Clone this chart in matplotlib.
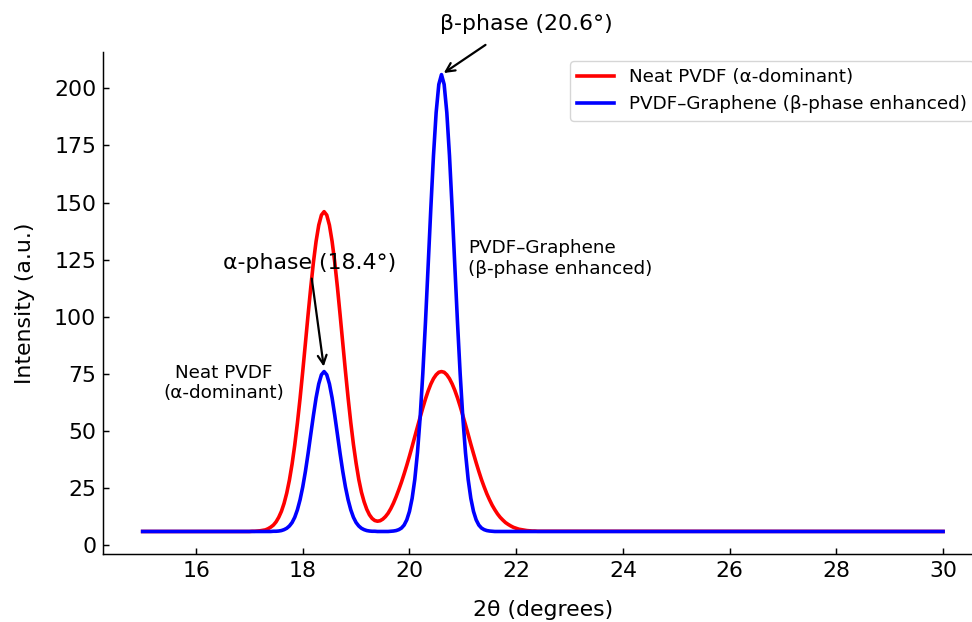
import matplotlib
matplotlib.use("Agg")
import matplotlib.pyplot as plt
import numpy as np

# XRD scan: flat baseline from 15 to 30 deg,
# peaks sampled every 0.05 deg between 17.0 and 22.5 deg
scan_start, scan_end = 15.0, 30.0
baseline = 6.0
two_theta = np.round(np.arange(17.0, 22.501, 0.05), 2)

neat_pvdf = [
    6.0, 6.1, 6.1, 6.2, 6.3, 6.5, 6.7, 7.2, 7.9, 8.8,
    10.2, 12.2, 14.8, 18.3, 22.8, 28.5, 35.5, 43.8, 53.5, 64.3,
    76.1, 88.4, 100.9, 112.8, 123.8, 133.0, 140.1, 144.5, 146.0, 144.5,
    140.1, 133.0, 123.8, 112.9, 100.9, 88.5, 76.2, 64.5, 53.7, 44.1,
    35.9, 28.8, 23.2, 19.0, 15.7, 13.3, 11.7, 10.8, 10.5, 10.7,
    11.4, 12.5, 14.0, 16.0, 18.4, 21.2, 24.3, 27.6, 31.2, 35.0,
    39.0, 43.2, 47.5, 51.8, 56.0, 60.1, 64.0, 67.5, 70.5, 72.9,
    74.6, 75.7, 76.0, 75.7, 74.6, 72.9, 70.6, 67.8, 64.5, 60.8,
    56.8, 52.7, 48.5, 44.2, 40.1, 36.1, 32.3, 28.7, 25.5, 22.5,
    19.9, 17.5, 15.5, 13.7, 12.2, 11.0, 9.9, 9.1, 8.4, 7.8,
    7.4, 7.0, 6.8, 6.6, 6.4, 6.3, 6.2, 6.2, 6.1, 6.1,
    6.1,
]

pvdf_graphene = [
    6.0, 6.0, 6.0, 6.0, 6.0, 6.0, 6.0, 6.0, 6.0, 6.1,
    6.1, 6.2, 6.4, 6.8, 7.4, 8.4, 9.9, 12.2, 15.5, 19.9,
    25.5, 32.3, 40.1, 48.5, 56.8, 64.5, 70.6, 74.6, 76.0, 74.6,
    70.6, 64.5, 56.8, 48.5, 40.1, 32.3, 25.5, 19.9, 15.5, 12.2,
    9.9, 8.4, 7.4, 6.8, 6.4, 6.2, 6.1, 6.1, 6.0, 6.0,
    6.0, 6.0, 6.0, 6.1, 6.2, 6.4, 6.8, 7.5, 8.8, 11.1,
    14.8, 20.5, 28.8, 40.5, 55.9, 75.1, 97.6, 122.3, 147.3, 170.5,
    189.4, 201.7, 206.0, 201.7, 189.4, 170.5, 147.3, 122.3, 97.6, 75.1,
    55.9, 40.5, 28.8, 20.5, 14.8, 11.1, 8.8, 7.5, 6.8, 6.4,
    6.2, 6.1, 6.0, 6.0, 6.0, 6.0, 6.0, 6.0, 6.0, 6.0,
    6.0, 6.0, 6.0, 6.0, 6.0, 6.0, 6.0, 6.0, 6.0, 6.0,
    6.0,
]

series_labels = ["Neat PVDF (α-dominant)", "PVDF–Graphene (β-phase enhanced)"]

# add the flat ends of the scan
x = np.concatenate([[scan_start], two_theta, [scan_end]])
neat = np.concatenate([[baseline], neat_pvdf, [baseline]])
graphene = np.concatenate([[baseline], pvdf_graphene, [baseline]])

fig = plt.figure(figsize=(9.72, 6.22), dpi=100)
# axes run a little past the right edge, as in the reference
ax = fig.add_axes([0.1056, 0.1088, 0.9058, 0.8080])

ax.plot(x, neat, color="red", lw=2.6, label=series_labels[0])
ax.plot(x, graphene, color="blue", lw=2.6, label=series_labels[1])

# peak annotations
ax.annotate("α-phase (18.4°)", xy=(18.4, 77), xytext=(18.13, 123.5), fontsize=15.8,
            ha="center", va="center",
            arrowprops=dict(arrowstyle="->", color="black", lw=1.6))
ax.annotate("β-phase (20.6°)", xy=(20.6, 206), xytext=(22.19, 228), fontsize=15.8,
            ha="center", va="center", annotation_clip=False,
            arrowprops=dict(arrowstyle="->", color="black", lw=1.6,
                            relpos=(0.44, 0.5), shrinkA=10))
ax.text(16.52, 71, "Neat PVDF\n(α-dominant)", fontsize=13.2, ha="center", va="center",
        multialignment="center")
ax.text(21.1, 125.5, "PVDF–Graphene\n(β-phase enhanced)", fontsize=13.2, ha="left", va="center")

ax.set_xticks(np.arange(16, 31, 2))
ax.set_yticks(np.arange(0, 201, 25))
ax.set_xlabel("2θ (degrees)", fontsize=15.8, labelpad=14)
ax.set_ylabel("Intensity (a.u.)", fontsize=15.8, labelpad=14)
ax.tick_params(direction="in", length=4.6, width=1.06, labelsize=15.8, pad=4.6)
for side in ["top", "right"]:
    ax.spines[side].set_visible(False)
for side in ["left", "bottom"]:
    ax.spines[side].set_linewidth(1.06)

ax.legend(loc="upper right", fontsize=13.2)

fig.savefig("out.png", dpi=100)
